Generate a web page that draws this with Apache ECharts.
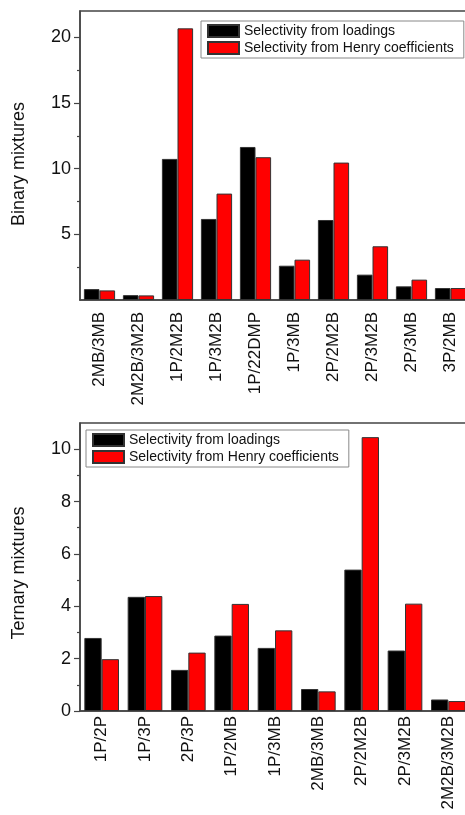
<!DOCTYPE html>
<html>
<head>
<meta charset="utf-8">
<script src="https://cdn.jsdelivr.net/npm/echarts@6/dist/echarts.min.js"></script>
<style>
html,body{margin:0;padding:0;background:#fff;overflow:hidden;}
#chart{width:465px;height:815px;}
</style>
</head>
<body>
<div id="chart"></div>
<script>
const seriesNames = ['Selectivity from loadings', 'Selectivity from Henry coefficients'];

const binaryCategories = ['2MB/3MB','2M2B/3M2B','1P/2M2B','1P/3M2B','1P/22DMP','1P/3MB','2P/2M2B','2P/3M2B','2P/3MB','3P/2MB'];
const binaryLoadings = [0.83, 0.37, 10.74, 6.17, 11.65, 2.61, 6.09, 1.93, 1.04, 0.91];
const binaryHenry = [0.73, 0.35, 20.68, 8.10, 10.87, 3.07, 10.46, 4.09, 1.55, 0.91];
const binaryTicks = [5, 10, 15, 20];
const binaryMinorTicks = [2.5, 7.5, 12.5, 17.5];

const ternaryCategories = ['1P/2P','1P/3P','2P/3P','1P/2MB','1P/3MB','2MB/3MB','2P/2M2B','2P/3M2B','2M2B/3M2B'];
const ternaryLoadings = [2.79, 4.36, 1.57, 2.88, 2.41, 0.84, 5.40, 2.31, 0.44];
const ternaryHenry = [1.98, 4.39, 2.23, 4.09, 3.08, 0.75, 10.46, 4.10, 0.38];
const ternaryTicks = [0, 2, 4, 6, 8, 10];
const ternaryMinorTicks = [1, 3, 5, 7, 9];

const FONT = 'Arial, "Liberation Sans", sans-serif';
const AXIS_COLOR = '#444';

function xAxis(grid, cats, margin) {
  return {
    type: 'category', gridIndex: grid, data: cats, boundaryGap: true,
    axisLine: {lineStyle: {color: AXIS_COLOR, width: 1.5}},
    axisTick: {show: false},
    axisLabel: {rotate: 90, interval: 0, fontSize: 17, color: '#111', fontFamily: FONT, margin: margin},
    splitLine: {show: false}
  };
}
function yMain(grid, max, ticks, name, pad) {
  return {
    type: 'value', gridIndex: grid, min: 0, max: max, position: 'left',
    name: name, nameLocation: 'middle', nameGap: 52,
    nameTextStyle: {fontSize: 18, color: '#111', fontFamily: FONT, padding: pad},
    axisLine: {show: true, lineStyle: {color: AXIS_COLOR, width: 1.5}},
    axisTick: {show: true, length: 6, customValues: ticks, lineStyle: {color: AXIS_COLOR, width: 1.2}},
    axisLabel: {fontSize: 18, color: '#111', fontFamily: FONT, margin: 9, customValues: ticks},
    splitLine: {show: false}
  };
}
function yMinor(grid, max, minor) {
  return {
    type: 'value', gridIndex: grid, min: 0, max: max, position: 'left',
    axisLine: {show: false},
    axisTick: {show: true, length: 3, customValues: minor, lineStyle: {color: AXIS_COLOR, width: 1.2}},
    axisLabel: {show: false},
    splitLine: {show: false}
  };
}
function legend(left, top) {
  return {
    data: seriesNames.map(n => ({name: n, icon: 'rect'})), orient: 'vertical', left: left, top: top,
    itemWidth: 31, itemHeight: 12, itemGap: 3,
    padding: [3, 10, 3, 6],
    borderColor: '#888', borderWidth: 1, borderRadius: 0,
    selectedMode: false,
    textStyle: {fontSize: 14, color: '#111', fontFamily: FONT, lineHeight: 14}
  };
}
function bar(name, data, xi, yi, color) {
  return {
    type: 'bar', name: name, data: data, xAxisIndex: xi, yAxisIndex: yi,
    barGap: '0%', barCategoryGap: '20%',
    itemStyle: {color: color, borderColor: '#333', borderWidth: 1},
    animation: false
  };
}
function grid(top, height) {
  return {
    left: 80, top: top, width: 390, height: height,
    containLabel: false, outerBoundsMode: 'none',
    show: true, borderColor: AXIS_COLOR, borderWidth: 1.5, backgroundColor: 'transparent'
  };
}

const chart = echarts.init(document.getElementById('chart'), null, {renderer: 'canvas'});
chart.setOption({
  backgroundColor: '#fff',
  animation: false,
  textStyle: {fontFamily: FONT},
  grid: [grid(11, 289), grid(423, 288)],
  legend: [legend(201, 21), legend(86, 430)],
  xAxis: [xAxis(0, binaryCategories, 12), xAxis(1, ternaryCategories, 5)],
  yAxis: [
    yMain(0, 22, binaryTicks, 'Binary mixtures', [0, 17, 0, 0]),
    yMinor(0, 22, binaryMinorTicks),
    yMain(1, 11, ternaryTicks, 'Ternary mixtures', [0, 12, 0, 0]),
    yMinor(1, 11, ternaryMinorTicks)
  ],
  series: [
    bar(seriesNames[0], binaryLoadings, 0, 0, '#000000'),
    bar(seriesNames[1], binaryHenry, 0, 0, '#ff0000'),
    bar(seriesNames[0], ternaryLoadings, 1, 2, '#000000'),
    bar(seriesNames[1], ternaryHenry, 1, 2, '#ff0000')
  ]
});
</script>
</body>
</html>
